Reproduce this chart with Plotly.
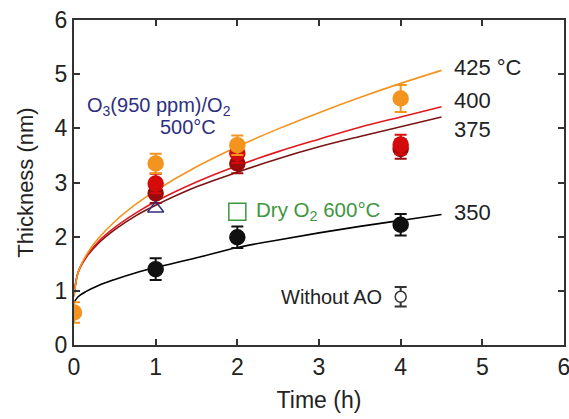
import plotly.graph_objects as go

# ---- data ----
# fitted curves (sampled along each drawn line)
t_fit = [0, 0.05, 0.15, 0.3, 0.5, 0.75, 1, 1.5, 2, 2.5, 3, 3.5, 4, 4.5]
fit_425 = [0.90, 1.34, 1.66, 1.97, 2.28, 2.59, 2.85, 3.29, 3.66, 3.99, 4.29, 4.57, 4.83, 5.07]
fit_400 = [0.90, 1.34, 1.63, 1.91, 2.17, 2.43, 2.65, 3.01, 3.31, 3.57, 3.80, 4.02, 4.21, 4.40]
fit_375 = [0.90, 1.34, 1.62, 1.88, 2.13, 2.38, 2.58, 2.92, 3.19, 3.44, 3.66, 3.85, 4.03, 4.21]
fit_350 = [0.78, 0.89, 0.99, 1.10, 1.21, 1.33, 1.43, 1.61, 1.80, 1.94, 2.07, 2.19, 2.30, 2.41]

# measured points
t_425 = [0, 1, 2, 4]
y_425 = [0.60, 3.35, 3.69, 4.55]
e_425 = [0.19, 0.18, 0.18, 0.25]
t_400 = [1, 2, 4]
y_400 = [2.98, 3.54, 3.70]
e_400 = [0.18, 0.18, 0.18]
t_375 = [1, 2, 4]
y_375 = [2.80, 3.35, 3.62]
e_375 = [0.18, 0.18, 0.18]
t_350 = [1, 2, 4]
y_350 = [1.40, 1.99, 2.22]
e_350 = [0.20, 0.20, 0.20]
t_noao = [4]
y_noao = [0.89]
e_noao = [0.18]
t_o3 = [1]
y_o3 = [2.52]
t_dry = [2]
y_dry = [2.46]

C_425 = "#F3941F"
C_400 = "#E0191E"
C_375 = "#7A1414"
C_350 = "#000000"
C_BLUE = "#2E2F80"
C_GREEN = "#3E963E"
FONT = "Liberation Sans, Arial, sans-serif"

fig = go.Figure()

for y, c in [(fit_350, C_350), (fit_375, C_375), (fit_400, C_400), (fit_425, C_425)]:
    fig.add_trace(go.Scatter(x=t_fit, y=y, mode="lines", line=dict(color=c, width=1.6, shape="spline"),
                             hoverinfo="skip", showlegend=False))

def pts(x, y, e, color, symbol="circle", size=15, fill=True):
    fig.add_trace(go.Scatter(
        x=x, y=y, mode="markers",
        error_y=dict(type="data", array=e, color=color, thickness=2, width=6),
        marker=dict(symbol=symbol, size=size, color=color if fill else "white",
                    line=dict(color=color, width=1.5)),
        showlegend=False))

pts(t_350, y_350, e_350, "#111111")
pts(t_375, y_375, e_375, "#9A0A0A")
pts(t_400, y_400, e_400, "#D50A0A")
pts(t_425, y_425, e_425, C_425)
pts(t_noao, y_noao, e_noao, "#333333", size=11, fill=False)

fig.add_trace(go.Scatter(x=t_o3, y=y_o3, mode="markers",
                         marker=dict(symbol="triangle-up-open", size=14, color=C_BLUE, line=dict(width=1.5)),
                         showlegend=False))
fig.add_trace(go.Scatter(x=t_dry, y=y_dry, mode="markers",
                         marker=dict(symbol="square-open", size=17, color=C_GREEN, line=dict(width=1.5)),
                         showlegend=False))

def ann(x, y, text, color="#222222", size=21, xanchor="left"):
    fig.add_annotation(x=x, y=y, xref="x", yref="y", text=text, showarrow=False,
                       xanchor=xanchor, yanchor="middle", font=dict(family=FONT, size=size, color=color))

ann(4.63, 5.13, "425 °C", size=22)
ann(4.63, 4.51, "400", size=22)
ann(4.63, 3.97, "375", size=22)
ann(4.63, 2.45, "350", size=22)
ann(3.80, 0.89, "Without AO", size=20, xanchor="right")
ann(2.2, 2.48, "Dry O<sub>2</sub> 600°C", color=C_GREEN, size=20.5)
ann(0.135, 4.40, "O<sub>3</sub>(950 ppm)/O<sub>2</sub>", color=C_BLUE, size=20)
ann(1.03, 4.03, "500°C", color=C_BLUE, size=20)

axis_common = dict(showline=True, linecolor="#333333", linewidth=2, mirror="ticks",
                   ticks="inside", ticklen=6, tickwidth=1.5, tickcolor="#333333",
                   showgrid=False, zeroline=False, dtick=1, automargin=False,
                   ticklabeloverflow="allow",
                   tickfont=dict(family=FONT, size=23, color="#222222"))

fig.update_xaxes(range=[0, 6], title=dict(text="Time (h)", font=dict(family=FONT, size=23, color="#222222"), standoff=13),
                 **axis_common)
fig.update_yaxes(range=[0, 6], title=dict(text="Thickness (nm)", font=dict(family=FONT, size=22, color="#222222"), standoff=15),
                 **axis_common)

fig.update_layout(width=569, height=419, margin=dict(l=74, r=5, t=20, b=74),
                  plot_bgcolor="white", paper_bgcolor="white", font=dict(family=FONT))

fig.write_html("out.html")
